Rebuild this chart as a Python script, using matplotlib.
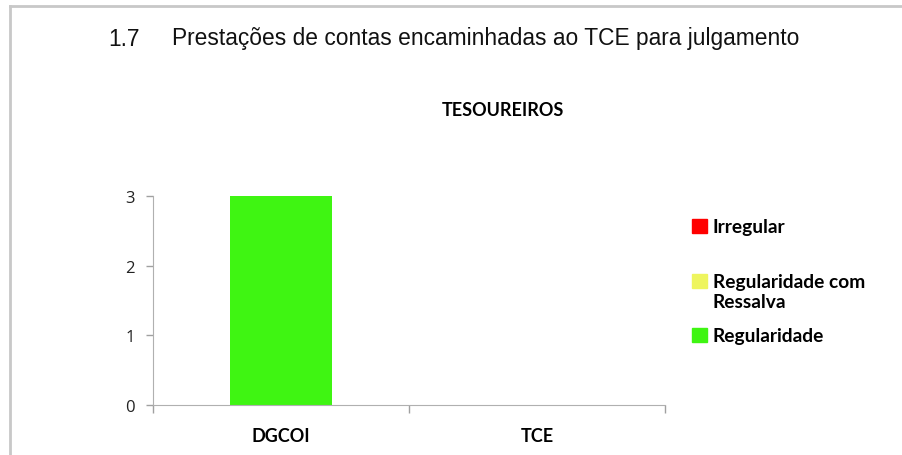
import matplotlib.pyplot as plt
from matplotlib.lines import Line2D
from matplotlib.patches import Rectangle

# dados do grafico
categorias = ['DGCOI', 'TCE']
regularidade = [3, 0]
ressalva = [0, 0]
irregular = [0, 0]

series = ['Irregular', 'Regularidade com\nRessalva', 'Regularidade']

cor_reg = '#3ff512'
cor_res = '#eef55e'
cor_irr = '#ff0000'

fig = plt.figure(figsize=(9.02, 4.56), dpi=100)

# moldura cinza da pagina
fig.add_artist(Line2D([10/902, 1], [1 - 7/456, 1 - 7/456], color='#c8c8c8', lw=2))
fig.add_artist(Line2D([10/902, 10/902], [0, 1 - 7/456], color='#c8c8c8', lw=2))

fig.text(108/902, 1 - 39/456, '1.7', fontsize=16.4, family='Liberation Sans',
         va='center', ha='left', color='#111111')
fig.text(172/902, 1 - 39/456, 'Prestações de contas encaminhadas ao TCE para julgamento',
         fontsize=16.4, family='Liberation Sans', va='center', ha='left', color='#111111')
fig.text(503/902, 1 - 110/456, 'TESOUREIROS', fontsize=13, family='Lato',
         fontweight='bold', ha='center', va='center')

ax = fig.add_axes([153/902, 1 - 406/456, (665 - 153)/902, (406 - 197)/456])
x = range(len(categorias))
largura = 0.4
ax.bar(x, regularidade, largura, color=cor_reg)
b2 = [r for r in regularidade]
ax.bar(x, ressalva, largura, bottom=b2, color=cor_res)
b3 = [r + s for r, s in zip(regularidade, ressalva)]
ax.bar(x, irregular, largura, bottom=b3, color=cor_irr)

ax.set_xlim(-0.5, 1.5)
ax.set_ylim(0, 3)
ax.set_yticks([0, 1, 2, 3])
ax.set_xticks(list(x))
ax.set_xticklabels(categorias, fontweight='bold', family='Lato', fontsize=13)
ax.set_xticks([-0.5, 0.5, 1.5], minor=True)
ax.tick_params(axis='x', which='major', length=0, pad=16)
ax.tick_params(axis='x', which='minor', length=6, color='#a0a0a0', width=1, direction='out')
ax.tick_params(axis='y', length=5, color='#a0a0a0', width=1, pad=8, labelsize=12, labelcolor='#222222')
for lab in ax.get_yticklabels():
    lab.set_family('Open Sans')

for s in ['top', 'right']:
    ax.spines[s].set_visible(False)
ax.spines['left'].set_color('#b0b0b0')
ax.spines['bottom'].set_color('#b0b0b0')

# legenda desenhada a mao para seguir o espacamento do original
cores = [cor_irr, cor_res, cor_reg]
ys = [227, 282, 336]
for nome, cor, y in zip(series, cores, ys):
    fig.add_artist(Rectangle((692/902, 1 - (y + 7)/456), 15/902, 14/456,
                             transform=fig.transFigure, color=cor))
    fig.text(713/902, 1 - (y - 8)/456, nome, fontsize=13.8, family='Lato', fontweight='bold',
             va='top', ha='left', linespacing=1.25)

fig.savefig('out.png', dpi=100, facecolor='white')
